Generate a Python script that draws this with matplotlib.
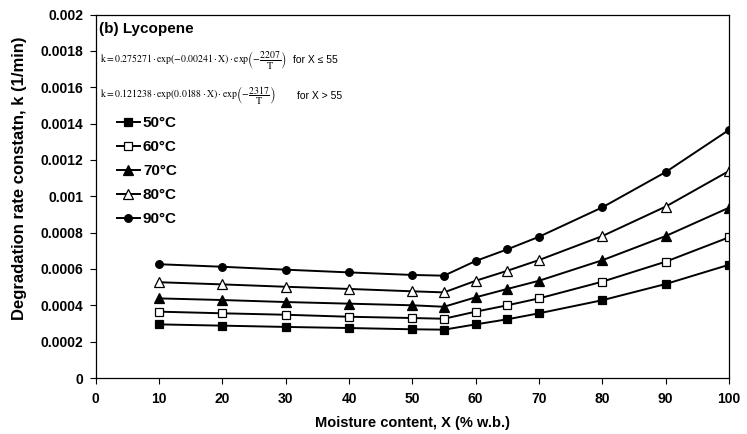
import matplotlib
matplotlib.use("Agg")
import matplotlib.pyplot as plt

moisture = [10, 20, 30, 40, 50, 55, 60, 65, 70, 80, 90, 100]
k_50 = [0.000295, 0.000288, 0.000281, 0.000275, 0.000268, 0.000266, 0.000295, 0.000323, 0.000356, 0.000428, 0.000517, 0.000623]
k_60 = [0.000365, 0.000356, 0.000348, 0.000337, 0.000330, 0.000326, 0.000365, 0.000400, 0.000438, 0.000530, 0.000640, 0.000774]
k_70 = [0.000438, 0.000429, 0.000418, 0.000409, 0.000400, 0.000392, 0.000444, 0.000490, 0.000535, 0.000648, 0.000781, 0.000937]
k_80 = [0.000527, 0.000515, 0.000502, 0.000490, 0.000477, 0.000471, 0.000535, 0.000590, 0.000649, 0.000781, 0.000943, 0.001139]
k_90 = [0.000626, 0.000612, 0.000596, 0.000581, 0.000567, 0.000563, 0.000644, 0.000708, 0.000777, 0.000939, 0.001133, 0.001365]
labels = ["50°C", "60°C", "70°C", "80°C", "90°C"]
y_ticks = [0, 0.0002, 0.0004, 0.0006, 0.0008, 0.001, 0.0012, 0.0014, 0.0016, 0.0018, 0.002]
y_tick_labels = ["0", "0.0002", "0.0004", "0.0006", "0.0008", "0.001", "0.0012", "0.0014", "0.0016", "0.0018", "0.002"]
x_ticks = [0, 10, 20, 30, 40, 50, 60, 70, 80, 90, 100]

plt.rcParams['font.family'] = ['Liberation Sans', 'DejaVu Sans']
plt.rcParams['mathtext.fontset'] = 'stix'

fig = plt.figure(figsize=(7.47, 4.34), dpi=100)
ax = fig.add_axes([95.7/747, 1-378/434, (729-95.7)/747, (378-14.5)/434])

styles = [
    dict(marker='s', mfc='black'),
    dict(marker='s', mfc='white'),
    dict(marker='^', mfc='black'),
    dict(marker='^', mfc='white'),
    dict(marker='o', mfc='black'),
]
series = [k_50, k_60, k_70, k_80, k_90]
handles = []
for vals, st, lab in zip(series, styles, labels):
    ms = 6.5 if st['marker'] == '^' else 5.5
    h, = ax.plot(moisture, vals, color='black', lw=1.4, marker=st['marker'],
                 mfc=st['mfc'], mec='black', mew=0.9, ms=ms, label=lab)
    handles.append(h)

ax.set_xlim(0, 100)
ax.set_ylim(0, 0.002)
ax.set_xticks(x_ticks)
ax.set_xticklabels([str(v) for v in x_ticks], fontsize=10, fontweight='bold')
ax.set_yticks(y_ticks)
ax.set_yticklabels(y_tick_labels, fontsize=10, fontweight='bold')
ax.tick_params(direction='out', length=4, width=0.8)
ax.tick_params(axis='x', pad=6)
ax.tick_params(axis='y', pad=5)
for s in ax.spines.values():
    s.set_linewidth(0.9)

ax.set_xlabel("Moisture content, X (% w.b.)", fontsize=10.5, fontweight='bold', labelpad=7)
ax.set_ylabel("Degradation rate constatn, k (1/min)", fontsize=12, fontweight='bold')
ax.yaxis.set_label_coords(-0.108, 0.55)

fig.text(99/747, 1-29/434, "(b) Lycopene", fontsize=11, fontweight='bold', va='center', ha='left')
fig.text(100/747, 1-60/434,
         r"$\mathrm{k}=0.275271\cdot\mathrm{exp}(-0.00241\cdot\mathrm{X})\cdot\mathrm{exp}\left(-\dfrac{2207}{\mathrm{T}}\right)$",
         fontsize=7, va='center', ha='left')
fig.text(293/747, 1-60/434, "for X ≤ 55", fontsize=7.5, va='center', ha='left')
fig.text(100/747, 1-96/434,
         r"$\mathrm{k}=0.121238\cdot\mathrm{exp}(0.0188\cdot\mathrm{X})\cdot\mathrm{exp}\left(-\dfrac{2317}{\mathrm{T}}\right)$",
         fontsize=7, va='center', ha='left')
fig.text(297/747, 1-96/434, "for X > 55", fontsize=7.5, va='center', ha='left')

leg = ax.legend(handles=handles, loc='upper left', bbox_to_anchor=(117/747, 1-116/434),
                bbox_transform=fig.transFigure, frameon=False,
                prop={'weight': 'bold', 'size': 11}, handlelength=1.5,
                handletextpad=0.2, labelspacing=0.66, borderpad=0, borderaxespad=0)

fig.savefig("out.png", dpi=100)
